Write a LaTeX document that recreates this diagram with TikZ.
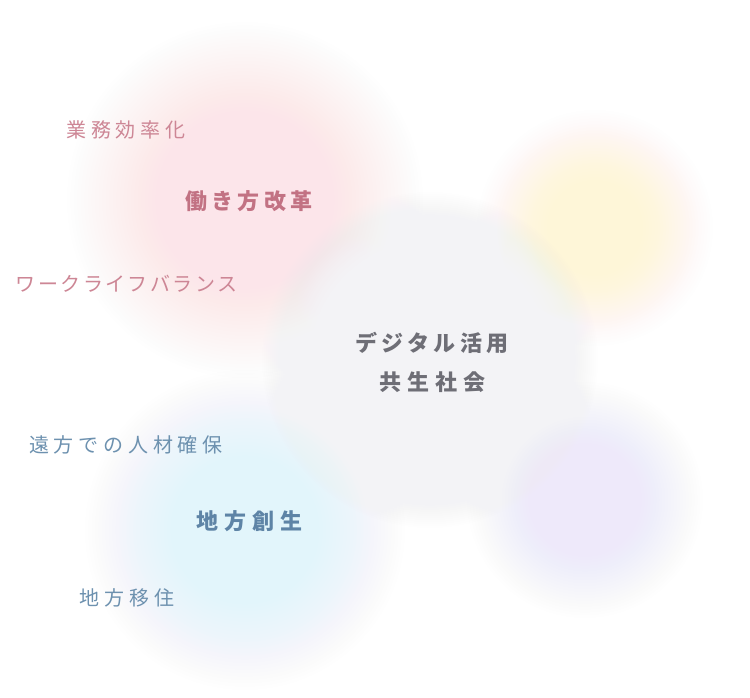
\documentclass[tikz,border=0pt]{standalone}
\usepackage{fontspec}
\newfontfamily\jpfont{Noto Sans CJK JP}
\definecolor{pinkblob}{HTML}{FCE5EA}
\definecolor{yellowblob}{HTML}{FEF6D8}
\definecolor{cyanblob}{HTML}{E2F5FB}
\definecolor{purpleblob}{HTML}{EEE9FA}
\definecolor{grayblob}{HTML}{F3F3F6}
\definecolor{pinktext}{HTML}{CD8695}
\definecolor{pinkbold}{HTML}{C27283}
\definecolor{bluetext}{HTML}{6D91AF}
\definecolor{bluebold}{HTML}{5E84A6}
\definecolor{graytext}{HTML}{6E6E76}
% soft blob: discs from outside in, opacities chosen so the accumulated
% opacity follows a smooth step from rout (0) to rin (1)
\newcommand{\softblob}[6]{% #1 x, #2 y, #3 rin, #4 rout, #5 colour, #6 steps
  \foreach \k in {1,...,#6}{
    \pgfmathsetmacro\bla{(\k-1)/#6}
    \pgfmathsetmacro\blb{\k/#6}
    \pgfmathsetmacro\ala{\bla*\bla*(3-2*\bla)}
    \pgfmathsetmacro\alb{\blb*\blb*(3-2*\blb)}
    \pgfmathsetmacro\bop{min(1,max(0,1-(1-\alb)/(1-\ala)))}
    \pgfmathsetmacro\brad{#4-(#4-#3)*(\k-1)/#6}
    \fill[#5, fill opacity=\bop] (#1,#2) circle (\brad);
  }
}
\tikzset{
  smalltext/.style={font=\fontsize{20}{24}\jpfont\addfontfeatures{LetterSpace=24}, inner sep=0pt},
  kanatext/.style={font=\fontsize{20}{24}\jpfont\addfontfeatures{LetterSpace=12}, inner sep=0pt},
  boldtext/.style={font=\fontsize{22}{26}\jpfont\bfseries\addfontfeatures{LetterSpace=#1}, inner sep=0pt},
}
\begin{document}
\begin{tikzpicture}[x=1pt,y=-1pt]
\useasboundingbox[fill=white] (0,0) rectangle (750,698);
% blobs
\softblob{245}{200}{50}{178}{pinkblob}{36}
\softblob{595}{228}{30}{118}{yellowblob}{30}
\softblob{245}{530}{50}{160}{cyanblob}{32}
\softblob{585}{500}{30}{118}{purpleblob}{30}
\softblob{430}{360}{118}{168}{grayblob}{24}
% texts
\node[smalltext, text=pinktext] (gyomu) at (126,130) {業務効率化};
\node[boldtext=19, text=pinkbold] (hataraki) at (249,201) {働き方改革};
\node[kanatext, text=pinktext] (wlb) at (126.5,284) {ワークライフバランス};
\node[boldtext=20, text=graytext] (digital1) at (432,343) {デジタル活用};
\node[boldtext=27, text=graytext] (digital2) at (432.5,382) {共生社会};
\node[smalltext, text=bluetext] (enpo) at (126,445) {遠方での人材確保};
\node[boldtext=26, text=bluebold] (chiho) at (249.5,521) {地方創生};
\node[smalltext, text=bluetext] (iju) at (127,598) {地方移住};
\end{tikzpicture}
\end{document}
